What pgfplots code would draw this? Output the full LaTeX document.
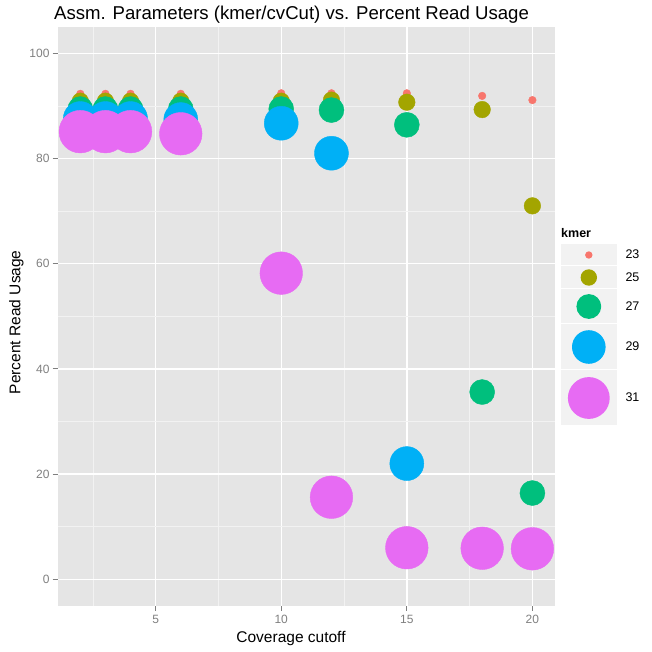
\documentclass[border=0pt]{standalone}
\usepackage{pgfplots}
\pgfplotsset{compat=1.18}
\usepackage{fontspec}
\setmainfont{Liberation Sans}
\definecolor{bg}{HTML}{E5E5E5}
\definecolor{minorg}{HTML}{F2F2F2}
\definecolor{keybg}{HTML}{F2F2F2}
\definecolor{tickgray}{HTML}{7F7F7F}
\definecolor{c23}{HTML}{F8766D}
\definecolor{c25}{HTML}{A3A500}
\definecolor{c27}{HTML}{00BF7D}
\definecolor{c29}{HTML}{00B0F6}
\definecolor{c31}{HTML}{E76BF3}
\begin{document}
\begin{tikzpicture}
\useasboundingbox (-57.7pt,-46.4pt) rectangle (594.3pt,605.6pt);
\begin{axis}[
  at={(0pt,0pt)}, anchor=south west,
  scale only axis, width=497.3pt, height=578.6pt,
  xmin=1.1, xmax=20.9, ymin=-5, ymax=105,
  axis background/.style={fill=bg},
  axis line style={draw=none},
  tick pos=left, tick align=outside,
  major tick length=5pt, minor tick length=0pt,
  tick style={color=tickgray, line width=0.8pt},
  xtick={5,10,15,20}, ytick={0,20,40,60,80,100},
  minor xtick={2.5,7.5,12.5,17.5}, minor ytick={10,30,50,70,90},
  grid=both,
  major grid style={white, line width=1.4pt},
  minor grid style={minorg, line width=0.7pt},
  /pgf/number format/assume math mode=true,
  tick label style={font=\fontsize{12}{12}\selectfont, text=tickgray, inner sep=0pt},
  yticklabel style={xshift=-3pt},
  xticklabel style={yshift=-4pt},
  legend cell align=left,
  legend style={draw=none, fill=none, inner sep=0pt, outer sep=0pt,
    row sep=0pt, column sep=0pt,
    nodes={inner sep=0pt, font=\fontsize{12.5}{12.5}\selectfont, text=black},
    at={(1.01166,0.62496)}, anchor=north west},
]
\addplot[only marks, mark=*, mark size=3.8pt, color=c23, mark options={draw=none, fill=c23},
  legend image code/.code={\path[draw=none,fill=none] (0pt,-11pt) rectangle (64.7pt,11pt); \path[draw=none,fill=keybg] (0pt,-10.5pt) rectangle (56pt,10.5pt); \path[draw=none,fill=c23] (28pt,0pt) circle (3.7pt);}]
  coordinates {(2,92.3)(3,92.3)(4,92.3)(6,92.3)(10,92.4)(12,92.4)(15,92.4)(18,91.9)(20,91.1)};
\addlegendentry{23}
\addplot[only marks, mark=*, mark size=8.3pt, color=c25, mark options={draw=none, fill=c25},
  legend image code/.code={\path[draw=none,fill=none] (0pt,-11.5pt) rectangle (64.7pt,11.5pt); \path[draw=none,fill=keybg] (0pt,-11pt) rectangle (56pt,11pt); \path[draw=none,fill=c25] (28pt,0pt) circle (8.2pt);}]
  coordinates {(2,90.9)(3,90.9)(4,90.9)(6,90.9)(10,90.9)(12,91.1)(15,90.7)(18,89.3)(20,71.0)};
\addlegendentry{25}
\addplot[only marks, mark=*, mark size=12.5pt, color=c27, mark options={draw=none, fill=c27},
  legend image code/.code={\path[draw=none,fill=none] (0pt,-17.5pt) rectangle (64.7pt,17.5pt); \path[draw=none,fill=keybg] (0pt,-17pt) rectangle (56pt,17pt); \path[draw=none,fill=c27] (28pt,0pt) circle (12.4pt);}]
  coordinates {(2,89.4)(3,89.4)(4,89.4)(6,89.4)(10,89.4)(12,89.2)(15,86.4)(18,35.6)(20,16.4)};
\addlegendentry{27}
\addplot[only marks, mark=*, mark size=17pt, color=c29, mark options={draw=none, fill=c29},
  legend image code/.code={\path[draw=none,fill=none] (0pt,-23pt) rectangle (64.7pt,23pt); \path[draw=none,fill=keybg] (0pt,-22.5pt) rectangle (56pt,22.5pt); \path[draw=none,fill=c29] (28pt,0pt) circle (16.8pt);}]
  coordinates {(2,87.6)(3,87.6)(4,87.6)(6,87.4)(10,86.7)(12,81.0)(15,22.0)(18,5.9)(20,5.8)};
\addlegendentry{29}
\addplot[only marks, mark=*, mark size=21.3pt, color=c31, mark options={draw=none, fill=c31},
  legend image code/.code={\path[draw=none,fill=none] (0pt,-28pt) rectangle (64.7pt,28pt); \path[draw=none,fill=keybg] (0pt,-27.5pt) rectangle (56pt,27.5pt); \path[draw=none,fill=c31] (28pt,0pt) circle (20.9pt);}]
  coordinates {(2,85.1)(3,85.1)(4,85.1)(6,84.7)(10,58.2)(12,15.6)(15,6.0)(18,5.9)(20,5.8)};
\addlegendentry{31}
\end{axis}
\node[anchor=base, font=\fontsize{18.6}{18.6}\selectfont] at (233.8pt,586.1pt) {Assm. Parameters (kmer/cvCut) vs. Percent Read Usage};
\node[anchor=base, rotate=90, font=\fontsize{15.5}{15.5}\selectfont] at (-37.2pt,283.3pt) {Percent Read Usage};
\node[anchor=base, font=\fontsize{15.5}{15.5}\selectfont] at (233.3pt,-37.1pt) {Coverage cutoff};
\node[anchor=base west, inner sep=0pt, font=\bfseries\fontsize{12.5}{12.5}\selectfont] at (503.3pt,367.9pt) {kmer};
\end{tikzpicture}
\end{document}
